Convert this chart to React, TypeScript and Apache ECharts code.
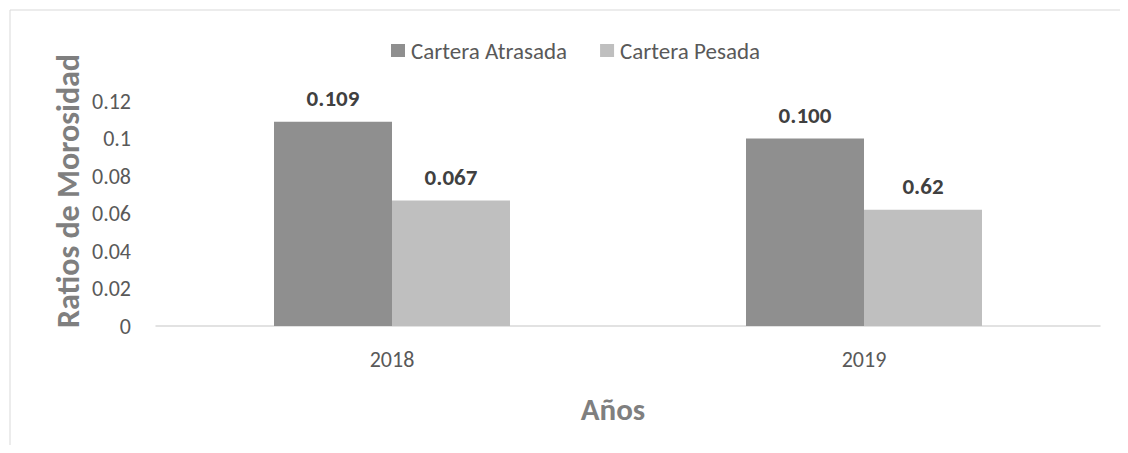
import React, { useEffect, useRef } from "react";
import * as echarts from "echarts";

const categories = ["2018", "2019"];
const atrasada = [0.109, 0.1];
const pesada = [0.067, 0.062];
const atrasadaLabels = ["0.109", "0.100"];
const pesadaLabels = ["0.067", "0.62"];
const seriesNames = ["Cartera Atrasada", "Cartera Pesada"];
const yTitle = "Ratios de Morosidad";
const xTitle = "Años";

const FONT = "Carlito, Lato, 'Liberation Sans', sans-serif";

export default function App() {
  const ref = useRef<HTMLDivElement>(null);
  useEffect(() => {
    if (!ref.current) return;
    const chart = echarts.init(ref.current, null, { renderer: "svg" });
    const label = (arr: string[]) => ({
      show: true,
      position: "top",
      distance: 12,
      fontSize: 23,
      fontWeight: "bold",
      color: "#404040",
      fontFamily: FONT,
      formatter: (p: any) => arr[p.dataIndex],
    });
    chart.setOption({
      animation: false,
      textStyle: { fontFamily: FONT },
      graphic: [
        {
          type: "rect",
          shape: { x: 10, y: 10, width: 1300, height: 600 },
          style: { fill: "none", stroke: "#d9d9d9", lineWidth: 1 },
          silent: true,
        },
        {
          type: "text",
          x: 68,
          y: 191,
          rotation: Math.PI / 2,
          style: {
            text: yTitle,
            font: `bold 32px ${FONT}`,
            fill: "#7f7f7f",
            align: "center",
            verticalAlign: "middle",
          },
        },
        {
          type: "text",
          x: 613,
          y: 409,
          style: {
            text: xTitle,
            font: `bold 31px ${FONT}`,
            fill: "#7f7f7f",
            align: "center",
            verticalAlign: "middle",
          },
        },
      ],
      legend: {
        top: 34,
        left: 386,
        itemWidth: 14,
        itemHeight: 13,
        itemGap: 33,
        icon: "rect",
        textStyle: { fontSize: 23, color: "#595959", fontFamily: FONT, padding: [0, 0, 0, 1] },
        data: seriesNames,
      },
      grid: { left: 156, right: 28, top: 101, bottom: 127, containLabel: false },
      xAxis: {
        type: "category",
        data: categories,
        axisLine: { lineStyle: { color: "#d9d9d9", width: 1.5 } },
        axisTick: { show: false },
        axisLabel: { fontSize: 22, color: "#595959", margin: 22, fontFamily: FONT },
      },
      yAxis: {
        type: "value",
        min: 0,
        max: 0.12,
        interval: 0.02,
        splitLine: { show: false },
        axisLine: { show: false },
        axisTick: { show: false },
        axisLabel: {
          fontSize: 22,
          color: "#595959",
          margin: 25,
          fontFamily: FONT,
          formatter: (v: number) => String(Number(v.toFixed(2))),
        },
      },
      series: [
        {
          name: seriesNames[0],
          type: "bar",
          data: atrasada,
          barWidth: "25%",
          barGap: "0%",
          itemStyle: { color: "#8f8f8f" },
          label: label(atrasadaLabels),
        },
        {
          name: seriesNames[1],
          type: "bar",
          data: pesada,
          barWidth: "25%",
          barGap: "0%",
          itemStyle: { color: "#bfbfbf" },
          label: label(pesadaLabels),
        },
      ],
    });
    return () => chart.dispose();
  }, []);
  return <div ref={ref} style={{ width: 1128, height: 453, margin: -8 }} />;
}
